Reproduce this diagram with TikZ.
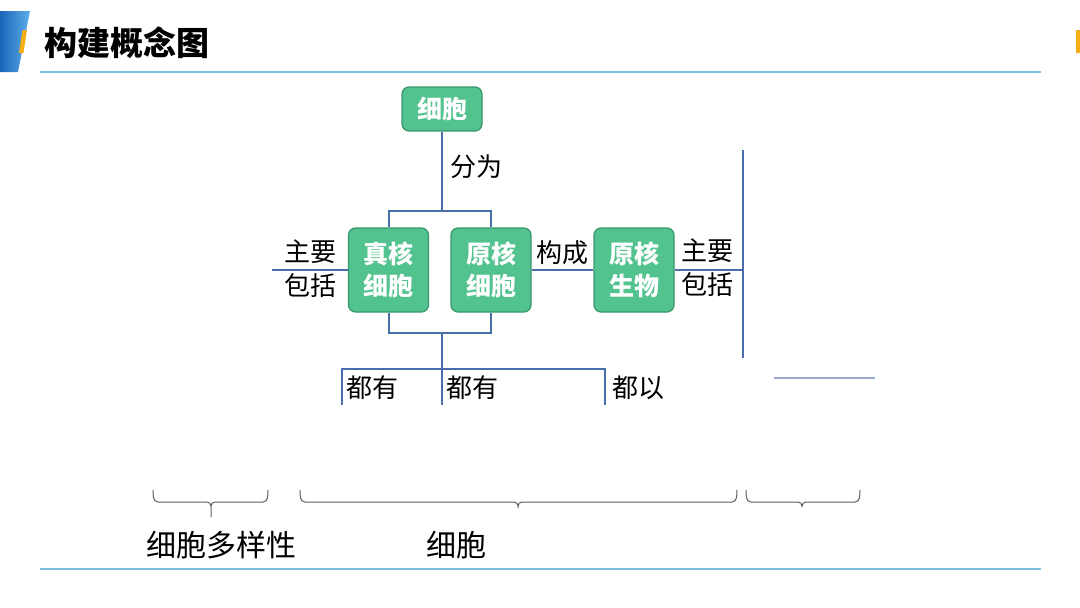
\documentclass[tikz,border=0pt]{standalone}
\usepackage{fontspec}
\setmainfont{Noto Sans CJK SC}
\definecolor{boxfill}{RGB}{82,194,142}
\definecolor{boxdraw}{RGB}{58,150,108}
\definecolor{connblue}{RGB}{74,110,172}
\definecolor{hdrline}{RGB}{125,190,225}
\definecolor{hdrdark}{RGB}{25,100,185}
\definecolor{hdrlight}{RGB}{95,175,235}
\definecolor{accent}{RGB}{245,175,20}
\definecolor{bracegray}{RGB}{95,95,95}
\definecolor{faintline}{RGB}{150,170,205}
\tikzset{
  cellbox/.style={rounded corners=7pt, fill=boxfill, draw=boxdraw, line width=1.2pt,
    text=white, font=\bfseries\fontsize{25}{32}\selectfont, align=center,
    minimum width=80pt, inner sep=0pt},
  conn/.style={draw=connblue, line width=2pt},
  lbl/.style={font=\fontsize{26}{28}\selectfont, text=black, inner sep=0pt},
  bracestyle/.style={draw=bracegray, line width=1pt},
  ruleline/.style={draw=hdrline, line width=1.6pt}
}
\newcommand\mybrc[4]{%
  \draw[bracestyle] (#1,490) to[out=-90,in=180] (#1+5,502) -- (#3-4,502) to[out=0,in=90] (#3,506) -- (#3,#4);
  \draw[bracestyle] (#2,490) to[out=-90,in=0] (#2-5,502) -- (#3+4,502) to[out=180,in=90] (#3,506);
}
\begin{document}
\begin{tikzpicture}[x=1pt,y=-1pt]
\useasboundingbox (0,0) rectangle (1080,608);
\fill[white] (0,0) rectangle (1080,608);
% header
\shade[left color=hdrdark, right color=hdrlight] (0,11) -- (30,11) -- (18,72) -- (0,72) -- cycle;
\fill[accent] (22.5,30) -- (27,30) -- (23.5,53) -- (19,53) -- cycle;
\fill[accent] (1076,30) rectangle (1080,53);
\node[font=\bfseries\fontsize{33}{33}\selectfont, anchor=west, inner sep=0pt] (title) at (44,43) {构建概念图};
\draw[ruleline] (40,72) -- (1041,72);
\draw[ruleline] (40,569) -- (1041,569);
% nodes
\node[cellbox, minimum height=44pt] (cell) at (442,109) {细胞};
\node[cellbox, minimum height=84pt] (euk) at (388.5,270) {真核\\细胞};
\node[cellbox, minimum height=84pt] (pro) at (491,270) {原核\\细胞};
\node[cellbox, minimum height=84pt] (proorg) at (634,270) {原核\\生物};
% coordinates
\coordinate (split) at (442,211);
\coordinate (join) at (442,333);
\coordinate (bus) at (442,369);
\coordinate (d1) at (342,405);
\coordinate (d2) at (442,405);
\coordinate (d3) at (605,405);
\coordinate (lend) at (272,270);
\coordinate (vtop) at (743,150);
\coordinate (vbot) at (743,358);
\coordinate (vmid) at (743,270);
\coordinate (s1) at (774,378);
\coordinate (s2) at (875,378);
% connectors
\draw[conn] (cell.south) -- (split);
\draw[conn] (euk.north) |- (split) -| (pro.north);
\draw[conn] (euk.south) |- (join) -| (pro.south);
\draw[conn] (join) -- (d2);
\draw[conn] (d1) |- (bus) -| (d3);
\draw[conn] (lend) -- (euk.west);
\draw[conn] (pro.east) -- (proorg.west);
\draw[conn] (proorg.east) -- (vmid);
\draw[conn] (vtop) -- (vbot);
\draw[draw=faintline, line width=1.3pt] (s1) -- (s2);
% labels
\node[lbl] (l1) at (476,167) {分为};
\node[lbl] (l2) at (310,252) {主要};
\node[lbl] (l3) at (310,286) {包括};
\node[lbl] (l4) at (562,253) {构成};
\node[lbl] (l5) at (707,251) {主要};
\node[lbl] (l6) at (707,285) {包括};
\node[lbl] (l7) at (372,388) {都有};
\node[lbl] (l8) at (472,388) {都有};
\node[lbl] (l9) at (638,388) {都以};
% braces
\mybrc{153}{268}{211}{517}
\mybrc{300}{737}{518}{508}
\mybrc{746}{860}{802}{507}
% bottom texts
\node[font=\fontsize{30}{32}\selectfont, inner sep=0pt] (b1) at (221,545) {细胞多样性};
\node[font=\fontsize{30}{32}\selectfont, inner sep=0pt, anchor=west] (b2) at (426,545) {细胞};
\end{tikzpicture}
\end{document}
